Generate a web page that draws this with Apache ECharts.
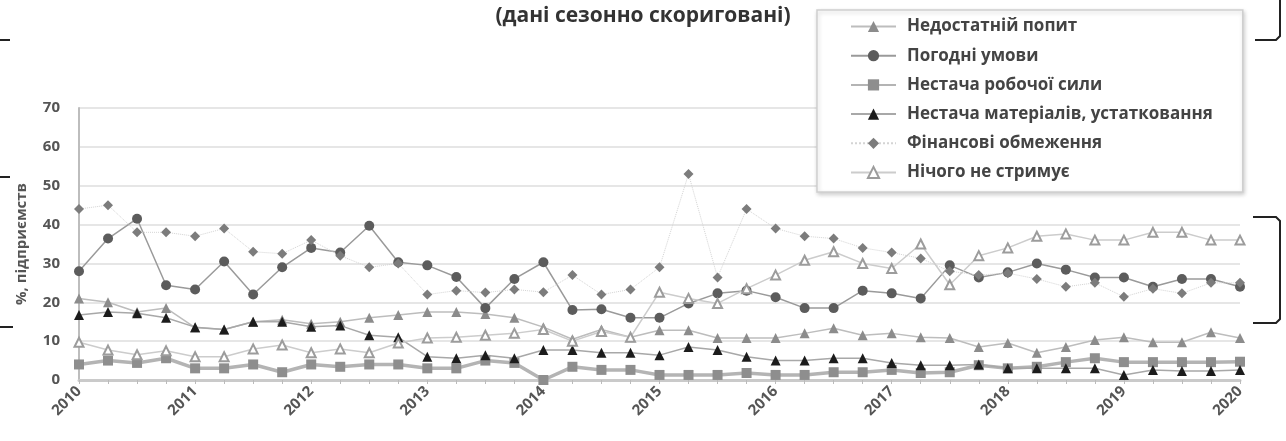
<!DOCTYPE html>
<html>
<head>
<meta charset="utf-8">
<script src="https://cdn.jsdelivr.net/npm/echarts@6/dist/echarts.min.js"></script>
<style>
  html, body { margin: 0; padding: 0; background: #fff; }
  #chart { width: 1286px; height: 441px; }
</style>
</head>
<body>
<div id="chart"></div>
<script>
// Quarterly survey: factors limiting construction activity, % of enterprises
const years = ['2010', '2011', '2012', '2013', '2014', '2015', '2016', '2017', '2018', '2019', '2020'];
const yTicks = [0, 10, 20, 30, 40, 50, 60, 70];

const seriesNames = [
  'Недостатній попит',
  'Погодні умови',
  'Нестача робочої сили',
  'Нестача матеріалів, устатковання',
  'Фінансові обмеження',
  'Нічого не стримує'
];

const demand = [21, 20, 17.5, 18.5, 13.5, 13, 15, 15.5, 14.5, 15, 16, 16.7, 17.5, 17.5, 17, 16, 13.6, 10.5, 13, 11,
  12.8, 12.8, 10.8, 10.8, 10.8, 12, 13.3, 11.5, 12, 11, 10.8, 8.5, 9.5, 7, 8.5, 10.3, 11, 9.7, 9.7, 12.3, 10.8];
const weather = [28, 36.4, 41.5, 24.4, 23.3, 30.5, 22, 29, 34, 32.8, 39.7, 30.3, 29.5, 26.5, 18.5, 26, 30.3, 18, 18.2, 16,
  16, 19.7, 22.3, 23, 21.3, 18.5, 18.5, 23, 22.3, 21, 29.5, 26.4, 27.7, 30, 28.4, 26.4, 26.4, 24, 26, 26, 24];
const labour = [4, 5, 4.4, 5.6, 3, 3, 4, 2, 4, 3.4, 4, 4, 3, 3, 5, 4.4, 0, 3.4, 2.6, 2.6,
  1.3, 1.3, 1.3, 1.8, 1.3, 1.3, 2, 2, 2.6, 1.8, 2, 3.8, 3, 3.4, 4.6, 5.6, 4.6, 4.6, 4.6, 4.6, 4.7];
const materials = [16.7, 17.5, 17.2, 16, 13.6, 13, 15, 15, 13.7, 14, 11.5, 11, 6, 5.6, 6.4, 5.6, 7.7, 7.7, 7, 7,
  6.4, 8.5, 7.7, 6, 5, 5, 5.6, 5.6, 4.4, 3.8, 3.8, 4, 3, 3, 3, 3, 1.3, 2.6, 2.3, 2.3, 2.6];
const finance = [44, 45, 38, 38, 37, 39, 33, 32.5, 36, 32, 29, 30, 22, 23, 22.5, 23.3, 22.6, 27, 22, 23.3,
  29, 53, 26.4, 44, 39, 37, 36.4, 34, 32.8, 31.3, 28, 27, 27.5, 26, 24, 25, 21.4, 23.5, 22.3, 25, 25];
const nothing = [9.7, 7.7, 6.5, 7.5, 6, 6, 8, 9, 7, 8, 7, 9.5, 10.8, 11, 11.5, 12, 13, 10, 12.5, 11,
  22.6, 21, 19.7, 23.5, 27, 30.8, 33, 30, 28.7, 35, 24.5, 32, 34, 37, 37.6, 36, 36, 38, 38, 36, 36];

// one category per quarter, last point is Q1 of the final year
const quarters = [];
years.forEach((y, i) => {
  const n = i === years.length - 1 ? 1 : 4;
  for (let q = 1; q <= n; q++) quarters.push(y + '-' + q);
});

const font = '"Open Sans", "DejaVu Sans", sans-serif';

function lineSeries(name, data, symbol, markerColor, line, extra) {
  return Object.assign({
    name: name,
    type: 'line',
    data: data,
    symbol: symbol,
    symbolSize: 10,
    itemStyle: { color: markerColor },
    lineStyle: line
  }, extra || {});
}

const chart = echarts.init(document.getElementById('chart'), null, { renderer: 'canvas' });

chart.setOption({
  animation: false,
  backgroundColor: '#fff',
  title: {
    text: '(дані сезонно скориговані)',
    left: 'center',
    top: 1,
    textStyle: { fontFamily: font, fontSize: 21, fontWeight: 'bold', color: '#333' }
  },
  legend: {
    orient: 'vertical',
    left: 817,
    top: 10,
    padding: [8, 30, 11, 33],
    itemWidth: 45,
    itemHeight: 14,
    itemGap: 12.2,
    backgroundColor: '#fff',
    borderColor: '#cfcfcf',
    borderWidth: 1.5,
    shadowBlur: 4,
    shadowColor: 'rgba(0,0,0,0.18)',
    shadowOffsetY: 2,
    shadowOffsetX: 1,
    data: seriesNames,
    textStyle: { fontFamily: font, fontSize: 17, fontWeight: 'bold', color: '#444', padding: [0, 0, 0, 6] }
  },
  grid: { left: 79, right: 46, top: 108, bottom: 61 },
  xAxis: {
    type: 'category',
    data: quarters,
    boundaryGap: false,
    axisLine: { lineStyle: { color: '#cacaca', width: 3 } },
    axisTick: { show: true, interval: 0, length: 4, lineStyle: { color: '#bbb' } },
    axisLabel: {
      interval: 3,
      rotate: 45,
      margin: 9,
      formatter: v => v.slice(0, 4),
      fontFamily: font,
      fontSize: 15,
      fontWeight: 'bold',
      color: '#555'
    },
    splitLine: { show: false }
  },
  yAxis: {
    type: 'value',
    min: yTicks[0],
    max: yTicks[yTicks.length - 1],
    interval: 10,
    name: '%, підприємств',
    nameLocation: 'middle',
    nameRotate: 90,
    nameGap: 50,
    nameTextStyle: { fontFamily: font, fontSize: 15, fontWeight: 'bold', color: '#555' },
    axisLine: { show: true, lineStyle: { color: '#bdbdbd', width: 2 } },
    axisTick: { show: false },
    axisLabel: { margin: 19, fontFamily: font, fontSize: 15, fontWeight: 'bold', color: '#555' },
    splitLine: { lineStyle: { color: '#e6e6e6', width: 2 } }
  },
  series: [
    lineSeries(seriesNames[0], demand, 'triangle', '#8c8c8c', { color: '#bdbdbd', width: 1.5 }),
    lineSeries(seriesNames[1], weather, 'circle', '#5c5c5c', { color: '#9a9a9a', width: 1.5 }),
    lineSeries(seriesNames[2], labour, 'rect', '#8e8e8e', { color: '#b4b4b4', width: 3.5 }),
    lineSeries(seriesNames[3], materials, 'triangle', '#1c1c1c', { color: '#a8a8a8', width: 1.5 }),
    lineSeries(seriesNames[4], finance, 'diamond', '#7c7c7c', { color: '#d4d4d4', width: 1, type: 'dotted' }),
    lineSeries(seriesNames[5], nothing, 'emptyTriangle', '#9c9c9c', { color: '#cccccc', width: 1.5 }, {
      symbolSize: 9,
      itemStyle: { color: '#9c9c9c', borderWidth: 1.5 }
    })
  ],
  graphic: [
    // page brackets around the figure
    { type: 'polyline', shape: { points: [[0, 40], [10, 40]] }, style: { stroke: '#222', lineWidth: 2, fill: null } },
    { type: 'polyline', shape: { points: [[0, 177], [10, 177]] }, style: { stroke: '#222', lineWidth: 2, fill: null } },
    { type: 'polyline', shape: { points: [[0, 327], [13, 327]] }, style: { stroke: '#222', lineWidth: 2, fill: null } },
    { type: 'polyline', shape: { points: [[1280, 0], [1280, 36], [1276, 40], [1255, 40]] }, style: { stroke: '#222', lineWidth: 2, fill: null } },
    { type: 'polyline', shape: { points: [[1253, 217], [1276, 217], [1280, 221], [1280, 319], [1276, 323], [1253, 323]] }, style: { stroke: '#222', lineWidth: 2, fill: null } }
  ]
});
</script>
</body>
</html>
